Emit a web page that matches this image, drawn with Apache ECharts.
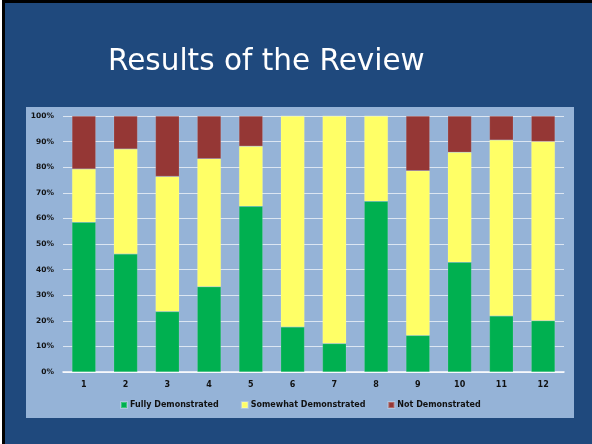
<!DOCTYPE html>
<html>
<head>
<meta charset="utf-8">
<script src="https://cdn.jsdelivr.net/npm/echarts@6/dist/echarts.min.js"></script>
<style>
html,body{margin:0;padding:0;background:#1f497d;}
#c{width:592px;height:444px;}
</style>
</head>
<body>
<div id="c"></div>
<script>
var categories = ['1','2','3','4','5','6','7','8','9','10','11','12'];
var fully = [58.5, 46.1, 23.6, 33.3, 64.7, 17.6, 11.1, 66.7, 14.3, 42.9, 21.9, 20.0];
var somewhat = [20.8, 41.0, 52.8, 50.0, 23.5, 82.4, 88.9, 33.3, 64.3, 42.9, 68.7, 70.0];
var notDem = [20.7, 12.9, 23.6, 16.7, 11.8, 0, 0, 0, 21.4, 14.2, 9.4, 10.0];
var yTicks = ['0%','10%','20%','30%','40%','50%','60%','70%','80%','90%','100%'];
var seriesNames = ['Fully Demonstrated','Somewhat Demonstrated','Not Demonstrated'];

var chart = echarts.init(document.getElementById('c'), null, {renderer:'canvas'});
var barStyle = function(color){
  return {color: color, borderColor: 'rgba(255,255,255,0.25)', borderWidth: 0.5};
};
chart.setOption({
  backgroundColor: '#1f497d',
  animation: false,
  graphic: [
    {type:'rect', shape:{x:26, y:107, width:548, height:311}, style:{fill:'#95b3d7'}, z:-10},
    {type:'rect', shape:{x:0, y:0, width:592, height:3}, style:{fill:'#000'}, z:10},
    {type:'rect', shape:{x:2, y:0, width:3, height:444}, style:{fill:'#000'}, z:10},
    {type:'rect', shape:{x:0, y:0, width:2, height:444}, style:{fill:'#fff'}, z:10}
  ],
  title: {
    text: 'Results of the Review',
    left: 103, top: 42,
    textStyle: {color:'#ffffff', fontSize: 29.5, fontWeight: 'normal', fontFamily: 'DejaVu Sans'}
  },
  legend: {
    data: seriesNames,
    left: 115, top: 396,
    itemWidth: 6, itemHeight: 6, itemGap: 22,
    icon: 'rect',
    textStyle: {color:'#111', fontSize: 8, fontWeight: 'bold', fontFamily: 'DejaVu Sans', padding:[0,0,0,-2]}
  },
  grid: {left: 63, right: 28, top: 116, bottom: 72},
  xAxis: {
    type: 'category',
    data: categories,
    axisLine: {lineStyle:{color:'#ffffff', width:1.5}},
    axisTick: {show:false},
    axisLabel: {color:'#111', fontSize: 8, fontWeight:'bold', fontFamily:'DejaVu Sans', margin: 9}
  },
  yAxis: {
    type: 'value',
    min: 0, max: 100, interval: 10,
    axisLine: {show:false},
    axisTick: {show:false},
    splitLine: {lineStyle:{color:'#dce6f2', width:1}},
    axisLabel: {
      color:'#111', fontSize: 7.5, fontWeight:'bold', fontFamily:'DejaVu Sans', margin: 9,
      formatter: function(v){ return yTicks[Math.round(v/10)]; }
    }
  },
  series: [
    {name: seriesNames[0], type:'bar', stack:'s', data: fully, barCategoryGap:'43%', itemStyle: barStyle('#00b050')},
    {name: seriesNames[1], type:'bar', stack:'s', data: somewhat, barCategoryGap:'43%', itemStyle: barStyle('#ffff66')},
    {name: seriesNames[2], type:'bar', stack:'s', data: notDem, barCategoryGap:'43%', itemStyle: barStyle('#953735')}
  ]
});
</script>
</body>
</html>
